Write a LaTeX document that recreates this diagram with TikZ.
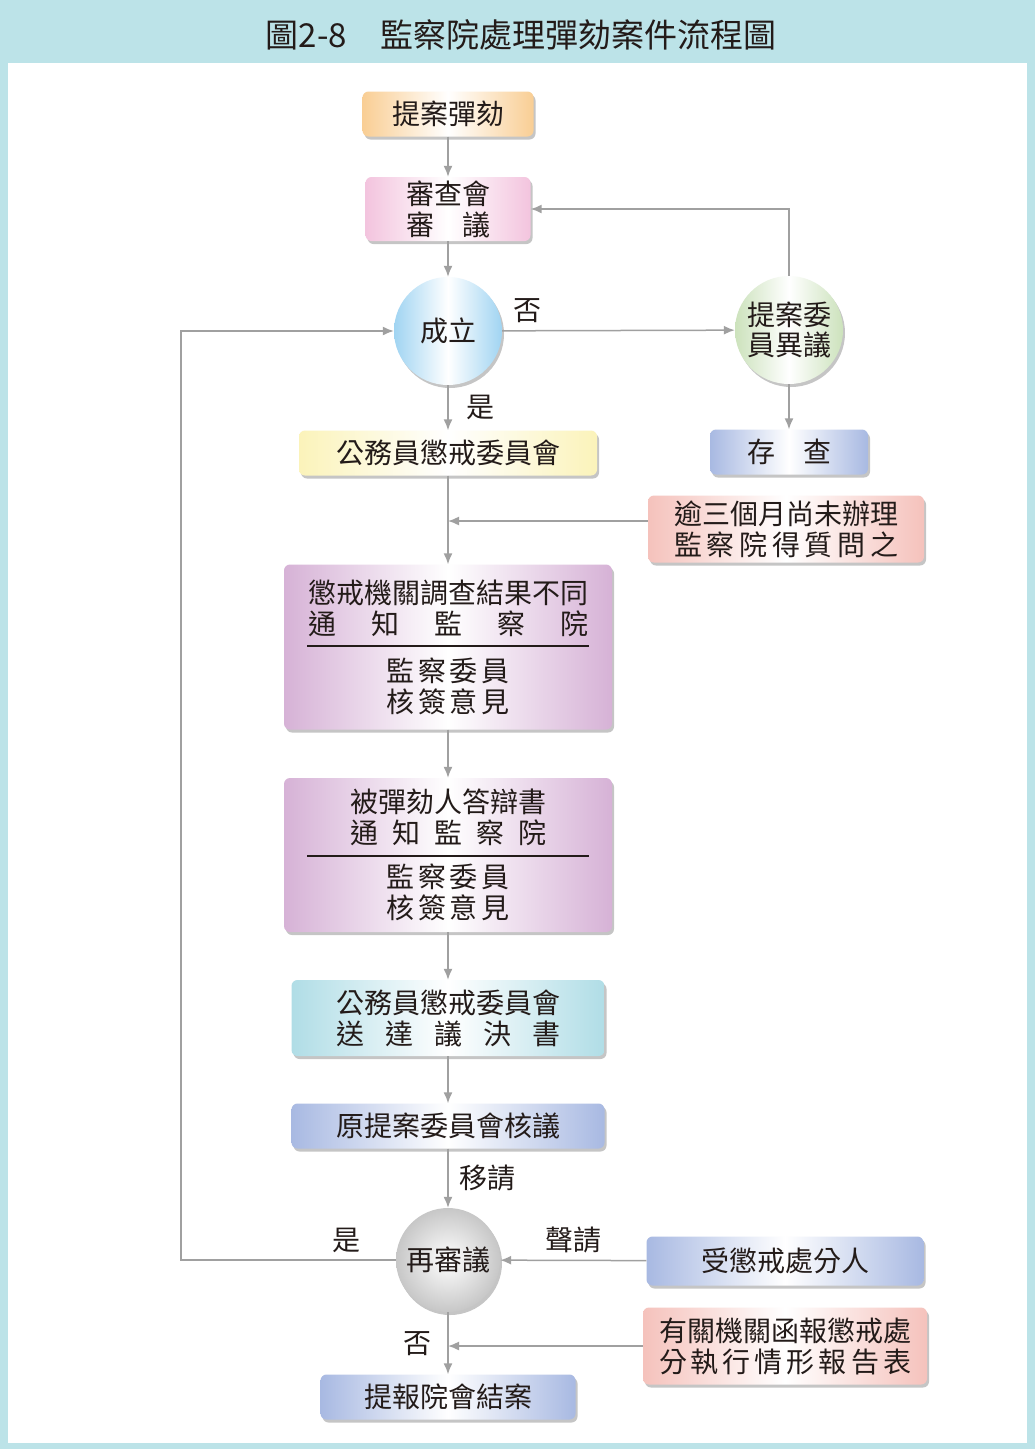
\documentclass[tikz,border=0pt]{standalone}
\usepackage{fontspec}
\setmainfont{Noto Sans CJK TC}
\usetikzlibrary{shadows,arrows.meta}

\definecolor{frame}{RGB}{188,227,232}
\definecolor{ink}{RGB}{35,27,25}
\definecolor{flowgray}{RGB}{160,160,160}
\definecolor{tangerine}{RGB}{249,206,148}
\definecolor{blush}{RGB}{243,196,222}
\definecolor{sky}{RGB}{160,212,242}
\definecolor{sage}{RGB}{204,226,188}
\definecolor{cream}{RGB}{251,243,186}
\definecolor{periwinkle}{RGB}{168,185,226}
\definecolor{salmon}{RGB}{245,194,188}
\definecolor{orchid}{RGB}{214,178,214}
\definecolor{aqua}{RGB}{176,221,230}

\begin{document}
\begin{tikzpicture}[x=1pt, y=-1pt]
    \tikzset{tint/.style={left color=#1, right color=#1, middle color=white}}
    \tikzset{flowbox/.style={rounded corners=6pt, minimum height=45pt, inner sep=0pt, align=center,
        text=ink, font=\fontsize{28}{31}\selectfont,
        drop shadow={shadow xshift=2pt, shadow yshift=-3pt, fill=black!50, opacity=0.45}}}
    \tikzset{flowdisc/.style={circle, minimum size=108pt, inner sep=0pt, align=center,
        text=ink, font=\fontsize{28}{30}\selectfont,
        drop shadow={shadow xshift=2pt, shadow yshift=-3pt, fill=black!50, opacity=0.45}}}
    \tikzset{flowline/.style={draw=flowgray, line width=1.5pt, -{Latex[length=11pt,width=9pt]}}}
    \tikzset{reply/.style={inner sep=0pt, text=ink, font=\fontsize{28}{30}\selectfont}}

    % frame
    \useasboundingbox (0,0) rectangle (1035,1449);
    \fill[frame] (0,0) rectangle (1035,1449);
    \fill[white] (8,63) rectangle (1027,1443);
    \node (title) at (521,35) [text=ink, font=\fontsize{33}{36}\selectfont] {圖2-8　監察院處理彈劾案件流程圖};

    % main column
    \node (propose) at (448,114) [flowbox, tint=tangerine, minimum width=171pt] {提案彈劾};
    \node (review) at (448,209) [flowbox, tint=blush, minimum width=165pt, minimum height=64pt]
        {審查會\\\makebox[3em][s]{審\hfill 議}};
    \node (valid) at (448,331) [flowdisc, tint=sky] {成立};
    \node (committee) at (448,453) [flowbox, tint=cream, minimum width=298pt] {公務員懲戒委員會};
    \node (notify1) at (448,647) [flowbox, tint=orchid, minimum width=328pt, minimum height=165pt]
        {懲戒機關調查結果不同\\\makebox[10em][s]{通\hfill 知\hfill 監\hfill 察\hfill 院}\\[16pt]
         \makebox[4.4em][s]{監\hfill 察\hfill 委\hfill 員}\\\makebox[4.4em][s]{核\hfill 簽\hfill 意\hfill 見}};
    \node (notify2) at (448,855) [flowbox, tint=orchid, minimum width=328pt, minimum height=154pt]
        {被彈劾人答辯書\\\makebox[7em][s]{通\hfill 知\hfill 監\hfill 察\hfill 院}\\[13pt]
         \makebox[4.4em][s]{監\hfill 察\hfill 委\hfill 員}\\\makebox[4.4em][s]{核\hfill 簽\hfill 意\hfill 見}};
    \node (resolution) at (448,1018) [flowbox, tint=aqua, minimum width=313pt, minimum height=76pt]
        {公務員懲戒委員會\\\makebox[8em][s]{送\hfill 達\hfill 議\hfill 決\hfill 書}};
    \node (recheck) at (448,1126) [flowbox, tint=periwinkle, minimum width=313pt] {原提案委員會核議};
    \node (retrial) at (448,1260) [flowdisc, inner color=white, outer color=black!22, minimum size=104pt] {再審議};
    \node (close) at (448,1397) [flowbox, tint=periwinkle, minimum width=255pt] {提報院會結案};

    % right column
    \node (objection) at (789,330) [flowdisc, tint=sage] {提案委\\員異議};
    \node (archive) at (789,452) [flowbox, tint=periwinkle, minimum width=158pt] {存　查};
    \node (overdue) at (786,529) [flowbox, tint=salmon, minimum width=276pt, minimum height=67pt]
        {逾三個月尚未辦理\\\makebox[8em][s]{監\hfill 察\hfill 院\hfill 得\hfill 質\hfill 問\hfill 之}};
    \node (punished) at (785,1261) [flowbox, tint=periwinkle, minimum width=277pt, minimum height=49pt] {受懲戒處分人};
    \node (report) at (785,1346) [flowbox, tint=salmon, minimum width=284pt, minimum height=77pt]
        {有關機關函報懲戒處\\\makebox[9em][s]{分\hfill 執\hfill 行\hfill 情\hfill 形\hfill 報\hfill 告\hfill 表}};

    % rules inside the purple boxes
    \coordinate (rule1 left)  at ([shift={(-141pt,1pt)}]notify1.center);
    \coordinate (rule1 right) at ([shift={( 141pt,1pt)}]notify1.center);
    \coordinate (rule2 left)  at ([shift={(-141pt,-1pt)}]notify2.center);
    \coordinate (rule2 right) at ([shift={( 141pt,-1pt)}]notify2.center);
    \draw[ink, line width=2pt] (rule1 left) -- (rule1 right);
    \draw[ink, line width=2pt] (rule2 left) -- (rule2 right);

    % connectors
    \coordinate (loop) at (181,1260);
    \coordinate (overdue exit) at ([yshift=8pt]overdue.west);
    \draw[flowline] (propose) -- (review);
    \draw[flowline] (review) -- (valid);
    \draw[flowline] (valid) -- node[reply, above=7pt, pos=0.11] {否} (objection);
    \draw[flowline] (objection) |- (review);
    \draw[flowline] (objection) -- (archive);
    \draw[flowline] (valid) -- node[reply, right=18pt, midway] {是} (committee);
    \draw[flowline] (committee) -- (notify1);
    \draw[flowline] (overdue exit) -- (overdue exit -| committee);
    \draw[flowline] (notify1) -- (notify2);
    \draw[flowline] (notify2) -- (resolution);
    \draw[flowline] (resolution) -- (recheck);
    \draw[flowline] (recheck) -- node[reply, right=11pt, midway] {移請} (retrial);
    \draw[flowline] (punished) -- node[reply, above=7pt, midway] {聲請} (retrial);
    \draw[flowline] (retrial) -- node[reply, above=6pt, pos=0.23] {是} (retrial -| loop) |- (valid);
    \draw[flowline] (retrial) -- node[reply, left=16pt, midway] {否} (close);
    \draw[flowline] (report) -- (report -| close);

\end{tikzpicture}
\end{document}
